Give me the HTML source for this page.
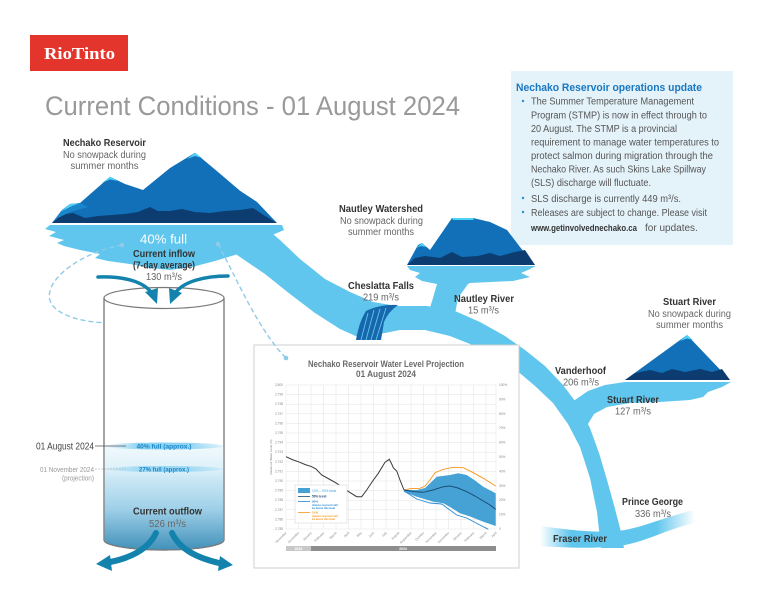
<!DOCTYPE html>
<html><head><meta charset="utf-8"><style>
html,body{margin:0;padding:0;background:#fff;}
svg{display:block;}
text{font-family:"Liberation Sans",sans-serif;}
.b{font-weight:bold;fill:#333;font-size:10px;}
.n{fill:#666;font-size:10px;}
.ib{fill:#555;font-size:10px;}
.tk{fill:#888;font-size:3.2px;}
</style></head><body>
<svg width="768" height="593" viewBox="0 0 768 593" xmlns="http://www.w3.org/2000/svg">
<defs>
<linearGradient id="fr" x1="540" y1="0" x2="695" y2="0" gradientUnits="userSpaceOnUse">
<stop offset="0" stop-color="#60c6ee" stop-opacity="0"/>
<stop offset="0.2" stop-color="#60c6ee"/>
<stop offset="0.75" stop-color="#60c6ee"/>
<stop offset="1" stop-color="#60c6ee" stop-opacity="0"/>
</linearGradient>
<linearGradient id="wt" x1="0" y1="446" x2="0" y2="551" gradientUnits="userSpaceOnUse">
<stop offset="0" stop-color="#f0f9fd"/>
<stop offset="0.22" stop-color="#dff1f9"/>
<stop offset="0.3" stop-color="#cde9f6"/>
<stop offset="0.6" stop-color="#9fd0e8"/>
<stop offset="1" stop-color="#3f8fb8"/>
</linearGradient>
<linearGradient id="sf" x1="104" y1="0" x2="224" y2="0" gradientUnits="userSpaceOnUse">
<stop offset="0" stop-color="#8fd3f2" stop-opacity="0"/>
<stop offset="0.3" stop-color="#8fd3f2"/>
<stop offset="0.7" stop-color="#8fd3f2"/>
<stop offset="1" stop-color="#8fd3f2" stop-opacity="0.2"/>
</linearGradient>
</defs>

<!-- Logo -->
<rect x="30" y="35" width="98" height="36" fill="#e3352c"/>
<text x="44" y="59" font-weight="bold" font-size="17" fill="#fff" textLength="71" lengthAdjust="spacingAndGlyphs" style="font-family:'Liberation Serif',serif">RioTinto</text>

<!-- Title -->
<text x="45" y="115" font-size="27" fill="#999999" textLength="415" lengthAdjust="spacingAndGlyphs">Current Conditions - 01 August 2024</text>

<!-- Info box -->
<rect x="511" y="71" width="222" height="174" fill="#e4f2fa"/>
<text x="516" y="91" font-size="11" font-weight="bold" fill="#1a78c2" textLength="186" lengthAdjust="spacingAndGlyphs">Nechako Reservoir operations update</text>
<circle cx="523" cy="101" r="1.2" fill="#2a8fd0"/>
<circle cx="523" cy="198" r="1.2" fill="#2a8fd0"/>
<circle cx="523" cy="212" r="1.2" fill="#2a8fd0"/>
<text class="ib" x="531" y="104.5" textLength="163" lengthAdjust="spacingAndGlyphs">The Summer Temperature Management</text>
<text class="ib" x="531" y="118.5" textLength="176" lengthAdjust="spacingAndGlyphs">Program (STMP) is now in effect through to</text>
<text class="ib" x="531" y="132" textLength="146" lengthAdjust="spacingAndGlyphs">20 August. The STMP is a provincial</text>
<text class="ib" x="531" y="145.5" textLength="188" lengthAdjust="spacingAndGlyphs">requirement to manage water temperatures to</text>
<text class="ib" x="531" y="159" textLength="182" lengthAdjust="spacingAndGlyphs">protect salmon during migration through the</text>
<text class="ib" x="531" y="172.5" textLength="175" lengthAdjust="spacingAndGlyphs">Nechako River. As such Skins Lake Spillway</text>
<text class="ib" x="531" y="186" textLength="120" lengthAdjust="spacingAndGlyphs">(SLS) discharge will fluctuate.</text>
<text class="ib" x="531" y="202" textLength="150" lengthAdjust="spacingAndGlyphs">SLS discharge is currently 449 m³/s.</text>
<text class="ib" x="531" y="216" textLength="176" lengthAdjust="spacingAndGlyphs">Releases are subject to change. Please visit</text>
<text x="531" y="231" font-size="9.5" font-weight="bold" fill="#333" textLength="106" lengthAdjust="spacingAndGlyphs">www.getinvolvednechako.ca</text>
<text class="ib" x="645" y="231">for updates.</text>

<!-- Rivers -->
<polygon fill="#60c6ee" points="262,225 280,240 300,259 325,279 350,292 373,302 397,306 427,306 455,311 480,322 505,336 525,350 545,366 563,385 578,405 590,428 599,453 607,480 614,505 620,528 624,548 601,548 597,512 590,478 580,447 568,424 553,403 535,386 515,369 495,356 470,344 450,336 425,330 400,330 380,334 360,338 340,329 315,313 290,294 265,274 240,257 230,250"/>
<path fill="url(#fr)" d="M540,526 C570,530 600,534 625,530 C650,525 670,515 695,510 L695,523 C670,528 650,540 625,545 C600,549 570,548 540,546 Z"/>
<!-- Nechako lake -->
<polygon fill="#60c6ee" points="50,225 282,225 284,230 270,236 255,246 238,254 215,261 192,267 170,270 150,268 130,264 108,261 95,258 100,254 80,250 64,246 57,243 64,240 49,236 56,232 45,229"/>
<!-- Nautley lake & branch -->
<polygon fill="#60c6ee" points="407,266 536,266 528,270 521,273 530,277 513,281 470,283 468,284 458,298 455,314 428,314 433,298 437,284 422,281 415,277 420,273 410,270"/>
<!-- Stuart lake & branch -->
<polygon fill="#60c6ee" points="572,402 588,391 605,385 625,382 731,382 722,387 708,392 703,397 690,400 660,402 630,403 607,407 594,414 588,424"/>

<!-- Nechako mountain -->
<path fill="#1170b8" d="M52,223 L62,210 L70,204 L80,203 L110,176.7 L125,184 L143,190 L170,168 L195,152.7 L218,172 L240,190.7 L257,202 L277,223 Z"/>
<path fill="#1a86cc" d="M52,223 L62,210 L70,204 L80,203 L88,207 L70,212 L60,218 Z"/>
<path fill="#0d3c70" d="M52,223 L58,218 L66,214 L73,213 L85,218 L98,216 L112,215 L125,214 L138,212 L150,207 L158,211 L170,211 L182,209 L195,212 L210,213 L225,211 L240,210 L253,208 L262,214 L277,223 Z"/>
<path fill="#4fd0f5" d="M102,183 L110,176.7 L118,181 L110,179.5 Z"/>
<path fill="#4fd0f5" d="M187,159 L195,152.7 L202,158 L195,156 Z"/>
<path fill="#4fd0f5" d="M60,212 L70,204 L80,203 L72,206 Z"/>

<!-- Nautley mountain -->
<path fill="#1170b8" d="M407,265 L418,245 L422,243 L430,250 L452,218 L473,218 L490,222 L507,230 L520,247 L535,265 Z"/>
<path fill="#0d3c70" d="M407,265 L415,258 L425,256 L440,258 L452,252 L462,257 L478,256 L490,253 L500,256 L515,252 L525,250 L535,265 Z"/>
<path fill="#4fd0f5" d="M452,218 L473,218 L474,220 L453,220 Z"/>
<path fill="#4fd0f5" d="M416,248 L422,243 L426,247 L421,246 Z"/>

<!-- Stuart mountain -->
<path fill="#1170b8" d="M625,380 L687,335 L730,380 Z"/>
<path fill="#0d3c70" d="M625,380 L635,373 L650,370 L662,373 L672,369 L685,372 L700,369 L712,372 L722,369 L730,380 Z"/>
<path fill="#4fd0f5" d="M680,341 L687,335 L693,340 L687,338.5 Z"/>

<!-- Cheslatta falls -->
<path fill="#1767ad" d="M366,311 Q380,304 398,305 Q388,312 384,322 L381,340 L356,340 Q359,322 366,311 Z"/>
<g stroke="#60c6ee" stroke-width="0.9">
<line x1="368" y1="313" x2="361" y2="340"/><line x1="374" y1="310" x2="366" y2="340"/>
<line x1="380" y1="309" x2="371" y2="340"/><line x1="386" y1="308" x2="376" y2="340"/>
</g>

<!-- Dashed leader left -->
<path d="M122,245 C70,255 35,290 55,308 C68,320 95,323 113,323" fill="none" stroke="#8fcbe8" stroke-width="1.4" stroke-dasharray="5,3"/>
<circle cx="122" cy="245" r="2.3" fill="#8fcbe8"/>
<circle cx="113" cy="323" r="2.3" fill="#8fcbe8"/>

<!-- Cylinder -->
<path d="M104,298 L104,540 A60,10 0 0 0 224,540 L224,298" fill="#fff" stroke="#7a7a7a" stroke-width="1.2"/>
<path d="M104.6,446 L104.6,540 A59.4,10 0 0 0 223.4,540 L223.4,446 Z" fill="url(#wt)"/>
<ellipse cx="164" cy="446" rx="60" ry="3.5" fill="url(#sf)"/>
<ellipse cx="164" cy="469" rx="60" ry="3" fill="url(#sf)" opacity="0.8"/>
<path d="M104,298 L104,540 A60,10 0 0 0 224,540 L224,298" fill="none" stroke="#7a7a7a" stroke-width="1.2"/>
<ellipse cx="164" cy="298" rx="60" ry="10.5" fill="#fff" stroke="#7a7a7a" stroke-width="1.2"/>
<text x="164" y="448.5" font-size="6.5" font-weight="bold" fill="#1a86c8" text-anchor="middle" textLength="55" lengthAdjust="spacingAndGlyphs">40% full (approx.)</text>
<text x="164" y="471.5" font-size="6.5" font-weight="bold" fill="#1a86c8" text-anchor="middle" textLength="50" lengthAdjust="spacingAndGlyphs">27% full (approx.)</text>
<text x="94" y="449.5" font-size="10" fill="#444" text-anchor="end" textLength="58" lengthAdjust="spacingAndGlyphs">01 August 2024</text>
<line x1="95" y1="446" x2="126" y2="446" stroke="#555" stroke-width="0.8"/>
<text x="94" y="472" font-size="7" fill="#999" text-anchor="end" textLength="54" lengthAdjust="spacingAndGlyphs">01 November 2024</text>
<text x="94" y="480.5" font-size="7" fill="#999" text-anchor="end" textLength="32" lengthAdjust="spacingAndGlyphs">(projection)</text>
<line x1="95" y1="469" x2="126" y2="469" stroke="#999" stroke-width="0.6" stroke-dasharray="2,1"/>
<text class="b" x="167.5" y="514.5" text-anchor="middle" textLength="69" lengthAdjust="spacingAndGlyphs">Current outflow</text>
<text class="n" x="167.5" y="527" text-anchor="middle" fill="#555" textLength="37" lengthAdjust="spacingAndGlyphs">526 m³/s</text>

<!-- Inflow / outflow arrows -->
<g fill="none" stroke="#1383ae" stroke-linecap="round">
<path d="M98,277 C125,276 143,282 151,292" stroke-width="3.5"/>
<path d="M228,276 C203,276 184,282 176,292" stroke-width="3.5"/>
<path d="M156,533 C148,550 130,558 110,562" stroke-width="6"/>
<path d="M172,533 C180,550 198,558 219,563" stroke-width="6"/>
</g>
<g fill="#1383ae">
<polygon points="145,292 158,288 157,304"/>
<polygon points="169,288 182,293 170,304"/>
<polygon points="96,564 110,555 112,571"/>
<polygon points="233,565 220,556 218,571"/>
</g>

<!-- Labels -->
<text class="b" x="104.5" y="146" text-anchor="middle" textLength="83" lengthAdjust="spacingAndGlyphs">Nechako Reservoir</text>
<text class="n" x="104.5" y="158" text-anchor="middle" textLength="83" lengthAdjust="spacingAndGlyphs">No snowpack during</text>
<text class="n" x="104.5" y="169" text-anchor="middle" textLength="68" lengthAdjust="spacingAndGlyphs">summer months</text>

<text x="163.5" y="243.5" font-size="13" fill="#fff" text-anchor="middle" textLength="47" lengthAdjust="spacingAndGlyphs">40% full</text>
<text class="b" x="164" y="257" text-anchor="middle" textLength="62" lengthAdjust="spacingAndGlyphs">Current inflow</text>
<text class="b" x="164" y="268.5" text-anchor="middle" textLength="62" lengthAdjust="spacingAndGlyphs">(7-day average)</text>
<text class="n" x="164" y="280" text-anchor="middle" textLength="36" lengthAdjust="spacingAndGlyphs">130 m³/s</text>

<text class="b" x="381" y="212" text-anchor="middle" textLength="84" lengthAdjust="spacingAndGlyphs">Nautley Watershed</text>
<text class="n" x="381.5" y="224" text-anchor="middle" textLength="83" lengthAdjust="spacingAndGlyphs">No snowpack during</text>
<text class="n" x="381" y="235" text-anchor="middle" textLength="66" lengthAdjust="spacingAndGlyphs">summer months</text>

<text class="b" x="381" y="289" text-anchor="middle" textLength="66" lengthAdjust="spacingAndGlyphs">Cheslatta Falls</text>
<text class="n" x="381" y="300.5" text-anchor="middle" textLength="36" lengthAdjust="spacingAndGlyphs">219 m³/s</text>

<text class="b" x="484" y="302" text-anchor="middle" textLength="60" lengthAdjust="spacingAndGlyphs">Nautley River</text>
<text class="n" x="483.5" y="313.5" text-anchor="middle" textLength="31" lengthAdjust="spacingAndGlyphs">15 m³/s</text>

<text class="b" x="689.5" y="305" text-anchor="middle" textLength="53" lengthAdjust="spacingAndGlyphs">Stuart River</text>
<text class="n" x="689.5" y="317" text-anchor="middle" textLength="83" lengthAdjust="spacingAndGlyphs">No snowpack during</text>
<text class="n" x="689.5" y="328" text-anchor="middle" textLength="67" lengthAdjust="spacingAndGlyphs">summer months</text>

<text class="b" x="555" y="374" textLength="51" lengthAdjust="spacingAndGlyphs">Vanderhoof</text>
<text class="n" x="563" y="385.5" textLength="36" lengthAdjust="spacingAndGlyphs">206 m³/s</text>
<text class="b" x="607" y="403" textLength="52" lengthAdjust="spacingAndGlyphs">Stuart River</text>
<text class="n" x="615" y="414.5" textLength="36" lengthAdjust="spacingAndGlyphs">127 m³/s</text>
<text class="b" x="622" y="505" textLength="61" lengthAdjust="spacingAndGlyphs">Prince George</text>
<text class="n" x="635" y="517" textLength="36" lengthAdjust="spacingAndGlyphs">336 m³/s</text>
<text class="b" x="553" y="542" textLength="54" lengthAdjust="spacingAndGlyphs">Fraser River</text>

<!-- Chart -->
<rect x="254" y="345" width="265" height="223" fill="#fff" stroke="#cfcfcf" stroke-width="1"/>
<text x="386" y="367" font-size="9" font-weight="bold" fill="#6a6a6a" text-anchor="middle" textLength="156" lengthAdjust="spacingAndGlyphs">Nechako Reservoir Water Level Projection</text>
<text x="386" y="377" font-size="9" font-weight="bold" fill="#6a6a6a" text-anchor="middle" textLength="60" lengthAdjust="spacingAndGlyphs">01 August 2024</text>
<g stroke="#e2e2e2" stroke-width="0.5">
<line x1="286" y1="385" x2="496" y2="385"/><line x1="286" y1="394.6" x2="496" y2="394.6"/>
<line x1="286" y1="404.2" x2="496" y2="404.2"/><line x1="286" y1="413.8" x2="496" y2="413.8"/>
<line x1="286" y1="423.4" x2="496" y2="423.4"/><line x1="286" y1="433" x2="496" y2="433"/>
<line x1="286" y1="442.6" x2="496" y2="442.6"/><line x1="286" y1="452.2" x2="496" y2="452.2"/>
<line x1="286" y1="461.8" x2="496" y2="461.8"/><line x1="286" y1="471.4" x2="496" y2="471.4"/>
<line x1="286" y1="481" x2="496" y2="481"/><line x1="286" y1="490.6" x2="496" y2="490.6"/>
<line x1="286" y1="500.2" x2="496" y2="500.2"/><line x1="286" y1="509.8" x2="496" y2="509.8"/>
<line x1="286" y1="519.4" x2="496" y2="519.4"/><line x1="286" y1="529" x2="496" y2="529"/>
<line x1="286" y1="385" x2="286" y2="529"/><line x1="298.5" y1="385" x2="298.5" y2="529"/>
<line x1="311" y1="385" x2="311" y2="529"/><line x1="323.5" y1="385" x2="323.5" y2="529"/>
<line x1="336" y1="385" x2="336" y2="529"/><line x1="348.5" y1="385" x2="348.5" y2="529"/>
<line x1="361" y1="385" x2="361" y2="529"/><line x1="373.5" y1="385" x2="373.5" y2="529"/>
<line x1="386" y1="385" x2="386" y2="529"/><line x1="398.5" y1="385" x2="398.5" y2="529"/>
<line x1="411" y1="385" x2="411" y2="529"/><line x1="423.5" y1="385" x2="423.5" y2="529"/>
<line x1="436" y1="385" x2="436" y2="529"/><line x1="448.5" y1="385" x2="448.5" y2="529"/>
<line x1="461" y1="385" x2="461" y2="529"/><line x1="473.5" y1="385" x2="473.5" y2="529"/>
<line x1="486" y1="385" x2="486" y2="529"/><line x1="496" y1="385" x2="496" y2="529"/>
</g>
<g class="tk" text-anchor="end">
<text x="283" y="386">2,800</text><text x="283" y="395.6">2,799</text><text x="283" y="405.2">2,798</text>
<text x="283" y="414.8">2,797</text><text x="283" y="424.4">2,796</text><text x="283" y="434">2,795</text>
<text x="283" y="443.6">2,794</text><text x="283" y="453.2">2,793</text><text x="283" y="462.8">2,792</text>
<text x="283" y="472.4">2,791</text><text x="283" y="482">2,790</text><text x="283" y="491.6">2,789</text>
<text x="283" y="501.2">2,788</text><text x="283" y="510.8">2,787</text><text x="283" y="520.4">2,786</text>
<text x="283" y="530">2,785</text>
</g>
<g class="tk">
<text x="499" y="386">100%</text><text x="499" y="400.4">90%</text><text x="499" y="414.8">80%</text>
<text x="499" y="429.2">70%</text><text x="499" y="443.6">60%</text><text x="499" y="458">50%</text>
<text x="499" y="472.4">40%</text><text x="499" y="486.8">30%</text><text x="499" y="501.2">20%</text>
<text x="499" y="515.6">10%</text><text x="499" y="530">0</text>
</g>
<text x="0" y="0" font-size="3" fill="#777" text-anchor="middle" transform="translate(272,457) rotate(-90)">Reservoir Water Level (m)</text>
<g class="tk" text-anchor="end">
<text transform="translate(287,533) rotate(-45)">November</text>
<text transform="translate(299.5,533) rotate(-45)">December</text>
<text transform="translate(312,533) rotate(-45)">January</text>
<text transform="translate(324.5,533) rotate(-45)">February</text>
<text transform="translate(337,533) rotate(-45)">March</text>
<text transform="translate(349.5,533) rotate(-45)">April</text>
<text transform="translate(362,533) rotate(-45)">May</text>
<text transform="translate(374.5,533) rotate(-45)">June</text>
<text transform="translate(387,533) rotate(-45)">July</text>
<text transform="translate(399.5,533) rotate(-45)">August</text>
<text transform="translate(412,533) rotate(-45)">September</text>
<text transform="translate(424.5,533) rotate(-45)">October</text>
<text transform="translate(437,533) rotate(-45)">November</text>
<text transform="translate(449.5,533) rotate(-45)">December</text>
<text transform="translate(462,533) rotate(-45)">January</text>
<text transform="translate(474.5,533) rotate(-45)">February</text>
<text transform="translate(487,533) rotate(-45)">March</text>
<text transform="translate(497,533) rotate(-45)">April</text>
</g>
<rect x="286" y="546" width="25" height="5" fill="#c8c8c8"/>
<rect x="311" y="546" width="185" height="5" fill="#8d8d8d"/>
<text x="298.5" y="550" font-size="3.5" font-weight="bold" fill="#fff" text-anchor="middle">2023</text>
<text x="403" y="550" font-size="3.5" font-weight="bold" fill="#fff" text-anchor="middle">2024</text>

<polygon fill="#46a2d4" points="404,490 416.7,490 425,488 430,483.3 436.7,476.7 450,475 458.3,473.3 466.7,475 475,480.5 483.3,486.7 495.7,493.3 495.7,526 483.3,521.7 470,516.5 460,513.3 450,507 443.3,503.3 433.3,501.7 416.7,496.7 404,491.7"/>
<polyline fill="none" stroke="#f7941d" stroke-width="0.9" points="404,490 410,488.7 420,488.3 425,486 430,480 435,472.7 443.3,469.3 453.3,467.3 463.3,467.7 473.3,472.7 483.3,478.3 495.7,486"/>
<polyline fill="none" stroke="#2a8ad2" stroke-width="0.9" points="404,491 416.7,499 430,503 441.7,504 456.7,515 466.7,518 478,524 488.3,529.3"/>
<polyline fill="none" stroke="#1d4a78" stroke-width="1" points="404,490 413,491.5 423.3,492.3 433,490 443.3,486.7 450,486 458,488 466.7,491.7 475,496 483.3,501 490,505 495.7,509.3"/>
<polyline fill="none" stroke="#3a3a3a" stroke-width="1" points="286,456.7 292,459.5 298.3,461.7 305,464.5 311.7,466.7 316,469 321.7,475 329,479 336.7,483.3 343,488 348.7,491.7 356.7,496.7 361.7,496.7 366.7,490 372,482 378.3,473.3 385,462.3 389.3,459.3 391.7,464 393.3,467.7 396.7,471 400,480 404,490"/>

<!-- Legend -->
<rect x="295" y="485" width="52" height="38" fill="#fff" stroke="#d0d0d0" stroke-width="0.5"/>
<rect x="298" y="488" width="12" height="5" fill="#46a2d4"/>
<text x="312" y="492" font-size="3.2" fill="#46a2d4">10% – 90% band</text>
<line x1="298" y1="496.5" x2="310" y2="496.5" stroke="#1d4a78" stroke-width="0.8"/>
<text x="312" y="497.5" font-size="3.2" font-weight="bold" fill="#1d4a78">50% level</text>
<line x1="298" y1="501.5" x2="310" y2="501.5" stroke="#2a8ad2" stroke-width="0.8"/>
<text x="312" y="502.5" font-size="3" font-weight="bold" fill="#2a8ad2">90%</text>
<text x="312" y="506" font-size="2.6" font-weight="bold" fill="#2a8ad2">chance reservoir will</text>
<text x="312" y="509" font-size="2.6" font-weight="bold" fill="#2a8ad2">be above this level</text>
<line x1="298" y1="512.5" x2="310" y2="512.5" stroke="#f7941d" stroke-width="0.8"/>
<text x="312" y="513.5" font-size="3" font-weight="bold" fill="#f7941d">10%</text>
<text x="312" y="517" font-size="2.6" font-weight="bold" fill="#f7941d">chance reservoir will</text>
<text x="312" y="520" font-size="2.6" font-weight="bold" fill="#f7941d">be above this level</text>

<!-- Dashed leader right -->
<path d="M218,244 C235,275 258,330 286,358" fill="none" stroke="#8fcbe8" stroke-width="1.4" stroke-dasharray="5,3"/>
<circle cx="218" cy="244" r="2.3" fill="#8fcbe8"/>
<circle cx="286" cy="358" r="2.3" fill="#8fcbe8"/>
</svg>
</body></html>
